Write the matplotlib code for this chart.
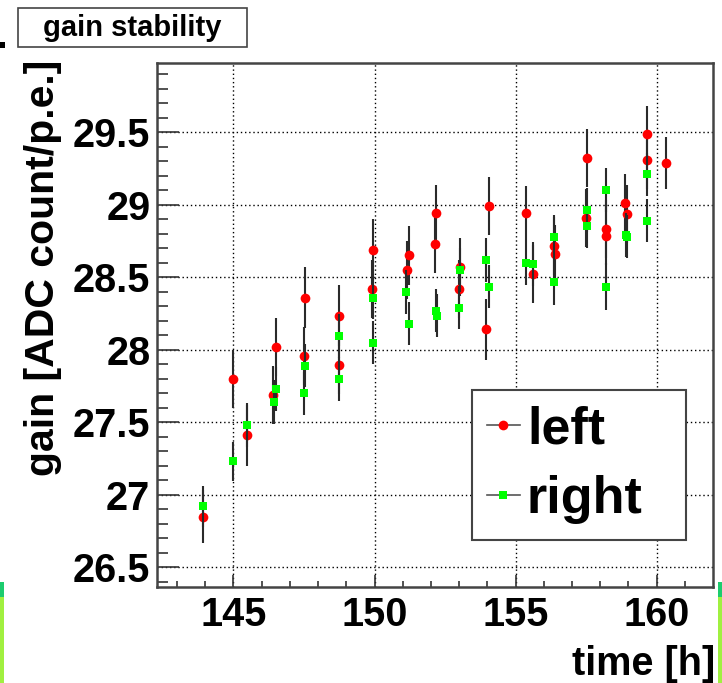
import matplotlib
matplotlib.use("Agg")
import matplotlib.pyplot as plt
from matplotlib.lines import Line2D
from matplotlib.patches import Rectangle
from matplotlib.ticker import MultipleLocator

plt.rcParams['font.family'] = ['Liberation Sans', 'DejaVu Sans']
plt.rcParams['font.weight'] = 'bold'

# ---- data -------------------------------------------------------------
left_t = [143.93, 144.97, 145.49, 146.50, 146.41, 147.54, 147.50, 148.75, 148.75,
          149.96, 149.92, 151.16, 151.23, 152.17, 152.15, 153.03, 152.98, 153.95,
          154.06, 155.37, 155.60, 156.36, 156.38, 157.54, 157.50, 158.19, 158.22,
          158.88, 158.95, 159.65, 159.65, 160.33]
left_gain = [26.85, 27.80, 27.41, 28.02, 27.69, 28.36, 27.955, 28.235, 27.895,
             28.69, 28.42, 28.55, 28.65, 28.945, 28.73, 28.57, 28.42, 28.14,
             28.99, 28.94, 28.52, 28.716, 28.66, 29.325, 28.91, 28.83, 28.785,
             29.01, 28.934, 29.49, 29.31, 29.29]
left_err = [0.18, 0.20, 0.21, 0.20, 0.20, 0.21, 0.20, 0.21, 0.20,
            0.21, 0.20, 0.20, 0.20, 0.19, 0.20, 0.20, 0.20, 0.21,
            0.20, 0.19, 0.20, 0.20, 0.20, 0.20, 0.20, 0.20, 0.20,
            0.20, 0.20, 0.19, 0.20, 0.18]

right_t = [143.93, 144.97, 145.49, 146.50, 146.43, 147.54, 147.50, 148.75, 148.75,
           149.96, 149.96, 151.12, 151.23, 152.17, 152.20, 153.03, 153.00, 153.95,
           154.06, 155.37, 155.60, 156.36, 156.36, 157.54, 157.54, 158.19, 158.19,
           158.90, 158.95, 159.65, 159.65]
right_gain = [26.92, 27.23, 27.48, 27.73, 27.64, 27.89, 27.70, 28.095, 27.80,
              28.36, 28.05, 28.40, 28.18, 28.27, 28.235, 28.55, 28.29, 28.62,
              28.435, 28.60, 28.59, 28.776, 28.466, 28.965, 28.85, 29.10, 28.435,
              28.79, 28.78, 29.21, 28.89]
right_err = [0.14, 0.135, 0.15, 0.15, 0.15, 0.15, 0.15, 0.15, 0.15,
             0.15, 0.15, 0.15, 0.15, 0.15, 0.15, 0.15, 0.15, 0.15,
             0.15, 0.15, 0.15, 0.15, 0.16, 0.15, 0.15, 0.15, 0.16,
             0.15, 0.15, 0.15, 0.15]

x_ticks = [145, 150, 155, 160]
y_ticks = [26.5, 27, 27.5, 28, 28.5, 29, 29.5]
y_tick_labels = ['26.5', '27', '27.5', '28', '28.5', '29', '29.5']
series_labels = ['left', 'right']

# ---- figure -----------------------------------------------------------
W, H = 722, 683
fig = plt.figure(figsize=(W / 100, H / 100), dpi=100)
fig.patch.set_facecolor('white')

def fx(px):
    return px / W

def fy(py):
    return 1 - py / H

ax_l, ax_r, ax_t, ax_b = 157.3, 712.5, 63.3, 586.5
ax = fig.add_axes([fx(ax_l), fy(ax_b), fx(ax_r - ax_l), (ax_b - ax_t) / H])

ax.errorbar(left_t, left_gain, yerr=left_err, fmt='o', color='#ff0000',
            markersize=7, markeredgewidth=0, ecolor='#2a2a2a', elinewidth=1.5,
            capsize=3.2, capthick=1.5, zorder=3)
ax.errorbar(right_t, right_gain, yerr=right_err, fmt='s', color='#00ff00',
            markersize=6.3, markeredgewidth=0, ecolor='#2a2a2a', elinewidth=1.5,
            capsize=3.2, capthick=1.5, zorder=4)

ax.set_xlim(142.3, 161.98)
ax.set_ylim(26.368, 29.975)

ax.set_xticks(x_ticks)
ax.set_xticklabels([str(v) for v in x_ticks])
ax.set_yticks(y_ticks)
ax.set_yticklabels(y_tick_labels)
ax.xaxis.set_minor_locator(MultipleLocator(1))
ax.yaxis.set_minor_locator(MultipleLocator(0.1))

ax.tick_params(axis='both', which='both', direction='in', colors='#333333',
               labelcolor='black', labelsize=28.5)
ax.tick_params(axis='x', which='major', length=8.6, width=1.2, pad=7)
ax.tick_params(axis='x', which='minor', length=4.3, width=1.2)
ax.tick_params(axis='y', which='major', length=16, width=1.2, pad=5)
ax.tick_params(axis='y', which='minor', length=8, width=1.2)
for lab in ax.get_xticklabels() + ax.get_yticklabels():
    lab.set_fontweight('bold')

ax.grid(True, which='major', color='black', linestyle=(0, (1, 2)), linewidth=1.0)
ax.set_axisbelow(True)
for sp in ax.spines.values():
    sp.set_color('#444444')
    sp.set_linewidth(1.8)

# axis titles
fig.text(fx(54.4), fy(60), 'gain [ADC count/p.e.]', rotation=90,
         rotation_mode='anchor', ha='right', va='baseline',
         fontsize=29.5, fontweight='bold')
fig.text(fx(715), fy(675), 'time [h]', ha='right', va='baseline',
         fontsize=28.5, fontweight='bold')

# legend
handles = [Line2D([], [], color='#555555', linewidth=1.2, marker='o',
                  markerfacecolor='#ff0000', markeredgewidth=0, markersize=7),
           Line2D([], [], color='#555555', linewidth=1.2, marker='s',
                  markerfacecolor='#00ff00', markeredgewidth=0, markersize=6.3)]
lx0, ly0, lx1, ly1 = 471.7, 390, 686, 535
leg = ax.legend(handles, series_labels, loc='upper left',
                bbox_to_anchor=(fx(lx0), fy(ly1), fx(lx1 - lx0), (ly1 - ly0) / H),
                bbox_transform=fig.transFigure, mode='expand', borderaxespad=0,
                prop={'size': 37.5, 'weight': 'bold'}, handlelength=0.62,
                handletextpad=0.14, borderpad=0.3, labelspacing=0.4,
                fancybox=False, framealpha=1, edgecolor='#444444')
leg.get_frame().set_linewidth(1.5)
leg.set_zorder(10)

# title box
fig.patches.append(Rectangle((fx(18), fy(47)), fx(229), 39 / H,
                             transform=fig.transFigure, facecolor='white',
                             edgecolor='#444444', linewidth=1.2))
fig.text(fx(132.5), fy(35.5), 'gain stability', ha='center', va='baseline',
         fontsize=21, fontweight='bold')

# small edge artifacts of the original screenshot
fig.patches.append(Rectangle((fx(0), fy(48.3)), fx(5), 6.6 / H,
                             transform=fig.transFigure, facecolor='black',
                             edgecolor='none'))
for x0 in (0, 718):
    fig.patches.append(Rectangle((fx(x0), fy(597)), fx(4), 15 / H,
                                 transform=fig.transFigure, facecolor='#1ccc6e',
                                 edgecolor='none'))
    fig.patches.append(Rectangle((fx(x0), fy(683)), fx(4), 86 / H,
                                 transform=fig.transFigure, facecolor='#a0f040',
                                 edgecolor='none'))

fig.savefig('out.png', dpi=100)
